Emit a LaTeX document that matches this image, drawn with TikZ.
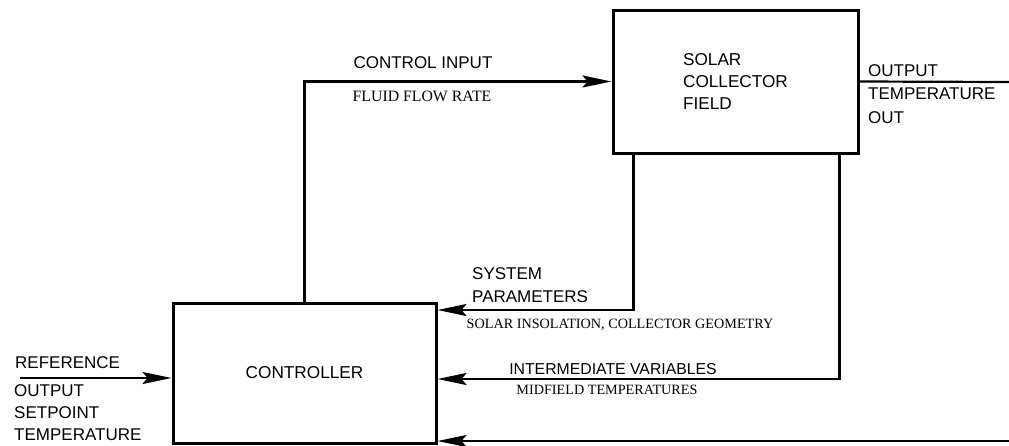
\documentclass[tikz,border=0pt]{standalone}
\usepackage{fontspec}
\setmainfont{Liberation Sans}
\newfontfamily\capserif{Liberation Serif}
\usetikzlibrary{arrows.meta}

\begin{document}
\begin{tikzpicture}[x=1pt,y=-1pt,
    block/.style={draw,line width=3pt,inner sep=0pt,align=left,
      font=\fontsize{17.2}{22}\selectfont},
    lbl/.style={inner sep=0pt,align=left,text depth=0pt,
      font=\fontsize{17}{23.5}\selectfont},
    slbl/.style={inner sep=0pt,text depth=0pt,
      font=\capserif\fontsize{14.2}{17}\selectfont},
    line/.style={line width=2.2pt},
    flow/.style={line width=2.2pt,-{Stealth[length=29pt,width=12pt,inset=5pt]}}]

\useasboundingbox (0,0) rectangle (1009,445);

% Blocks
\node[block,minimum width=245pt,minimum height=143pt] (coll) at (735.5,81.5)
  {SOLAR\\COLLECTOR\\FIELD};
\node[block,minimum width=263pt,minimum height=140pt] (ctrl) at (304.5,373)
  {CONTROLLER};

% Free ends
\coordinate (outend) at (1009,82);
\coordinate (fbend) at (1009,441);
\coordinate (refstart) at (20,378);
\coordinate (sptop) at ([xshift=22pt]coll.south west);
\coordinate (ivtop) at ([xshift=-20pt]coll.south east);

% Signals
\draw[flow] (ctrl.north) |- (coll.west);
\draw[line] (coll.east) -- (outend);
\draw[flow] (sptop) |- (ctrl.north east |- 0,310);
\draw[flow] (ivtop) |- (ctrl.east |- 0,379);
\draw[flow] (fbend) -- (ctrl.east |- fbend);
\draw[flow] (refstart) -- (ctrl.west |- refstart);

% Labels
\node[lbl] (cinlbl) at (423,63) {CONTROL INPUT};
\node[slbl,font=\capserif\fontsize{15.8}{17}\selectfont] (flowlbl) at (422,96) {FLUID FLOW RATE};
\node[lbl,anchor=north west] (outlbl) at (868,64) {OUTPUT\\TEMPERATURE\\OUT};
\node[lbl,anchor=north west] (splbl) at (472,267) {SYSTEM\\PARAMETERS};
\node[slbl] (insollbl) at (620,324) {SOLAR INSOLATION, COLLECTOR GEOMETRY};
\node[lbl,font=\fontsize{15.8}{18}\selectfont] (ivlbl) at (613,369) {INTERMEDIATE VARIABLES};
\node[slbl] (midlbl) at (607,390) {MIDFIELD TEMPERATURES};
\node[lbl,anchor=west] (reflbl) at (15,363) {REFERENCE};
\node[lbl,anchor=north west,font=\fontsize{17}{22}\selectfont] (setlbl) at (14,384)
  {OUTPUT\\SETPOINT\\TEMPERATURE};

\end{tikzpicture}
\end{document}
